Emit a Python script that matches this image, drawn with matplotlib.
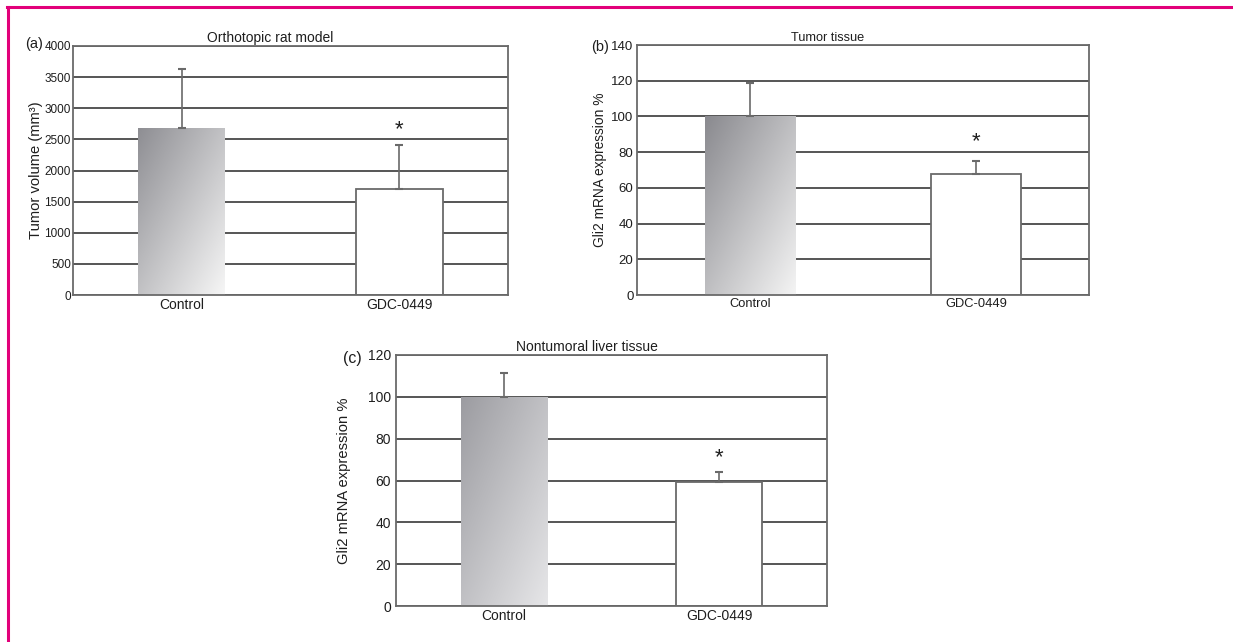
import numpy as np
import matplotlib
matplotlib.use('Agg')
import matplotlib.pyplot as plt
from matplotlib.lines import Line2D
from matplotlib.colors import LinearSegmentedColormap

plt.rcParams['font.family'] = ['Liberation Sans', 'DejaVu Sans']

groups = ['Control', 'GDC-0449']

# (a) orthotopic rat model
vol_mean = [2690, 1705]
vol_err = [935, 700]
vol_star = 2650

# (b) tumor tissue
tum_mean = [100, 68]
tum_err = [19, 7.3]
tum_star = 86

# (c) nontumoral liver tissue
liv_mean = [100, 59.5]
liv_err = [11.5, 4.5]
liv_star = 71

GRID = '#555555'
EDGE = '#6a6a6a'
TXT = '#1e1e1e'


def draw_panel(ax, means, errs, star_y, ymax, ystep, title, title_x, ylabel,
               tick_fs, lab_fs, title_fs, grad_cols, ypad, labpad):
    pos = np.arange(len(means))
    ax.yaxis.grid(True, color=GRID, lw=1.4, zorder=0)
    ax.set_axisbelow(True)

    # control bar with a diagonal grey gradient
    b0 = ax.bar(pos[0], means[0], 0.4, color='none', edgecolor='none', zorder=2)[0]
    grad = np.add.outer(np.linspace(0, 1, 100), np.linspace(0, 1, 100)) / 2
    cmap = LinearSegmentedColormap.from_list('g', grad_cols)
    x0, w = b0.get_x(), b0.get_width()
    im = ax.imshow(grad, cmap=cmap, vmin=0, vmax=1,
                   extent=[x0, x0 + w, 0, means[0]], origin='upper',
                   aspect='auto', zorder=2)
    im.set_clip_path(b0)
    ax.set_xlim(-0.5, 1.5)
    ax.set_ylim(0, ymax)
    ax.set_yticks(np.arange(0, ymax + 1, ystep))

    # treated bar, white with outline
    ax.bar(pos[1], means[1], 0.4, color='white', edgecolor=EDGE, lw=1.3, zorder=2)

    # upward error bars only
    ax.errorbar(pos, means, yerr=[[0, 0], errs], fmt='none', ecolor=EDGE,
                elinewidth=1.2, capsize=3, capthick=1.5, zorder=3)

    ax.text(pos[1], star_y, '*', ha='center', va='center', fontsize=16, color=TXT)

    ax.set_xticks(pos)
    ax.set_xticklabels(groups)
    ax.tick_params(length=0, labelsize=tick_fs, colors=TXT)
    ax.tick_params(axis='y', pad=ypad)
    ax.tick_params(axis='x', pad=2, labelsize=lab_fs)
    for s in ax.spines.values():
        s.set_color(EDGE)
        s.set_linewidth(1.3)
    ax.set_title(title, fontsize=title_fs, pad=3, color=TXT, x=title_x)
    ax.set_ylabel(ylabel, fontsize=lab_fs + 0.6, color=TXT, labelpad=labpad)


fig = plt.figure(figsize=(12.33, 6.42), dpi=100)

ax_a = fig.add_axes([73 / 1233, 1 - 295 / 642, 435 / 1233, 249 / 642])
draw_panel(ax_a, vol_mean, vol_err, vol_star, 4000, 500,
           'Orthotopic rat model', 0.454, 'Tumor volume (mm³)',
           8.5, 10, 10, ['#8e8e93', '#f6f6f6'], 1.5, 1)

ax_b = fig.add_axes([637 / 1233, 1 - 295 / 642, 452 / 1233, 250 / 642])
draw_panel(ax_b, tum_mean, tum_err, tum_star, 140, 20,
           'Tumor tissue', 0.421, 'Gli2 mRNA expression %',
           9.5, 9.3, 9.2, ['#8a8a8f', '#f4f4f4'], 2.5, 3)

ax_c = fig.add_axes([396 / 1233, 1 - 606 / 642, 431 / 1233, 251 / 642])
draw_panel(ax_c, liv_mean, liv_err, liv_star, 120, 20,
           'Nontumoral liver tissue', 0.442, 'Gli2 mRNA expression %',
           10, 10, 10, ['#9c9ca1', '#e6e6e8'], 3.5, 12)

fig.text(25 / 1233, 1 - 44 / 642, '(a)', fontsize=10.5, va='center', color=TXT)
fig.text(591 / 1233, 1 - 47 / 642, '(b)', fontsize=10.5, va='center', color=TXT)
fig.text(343 / 1233, 1 - 359 / 642, '(c)', fontsize=11.5, va='center', color=TXT)

# pink frame on left and top
pink = '#E2007A'
fig.add_artist(Line2D([8 / 1233, 8 / 1233], [0, 1 - 7 / 642], transform=fig.transFigure,
                      color=pink, lw=2.2))
fig.add_artist(Line2D([7 / 1233, 1], [1 - 7 / 642, 1 - 7 / 642], transform=fig.transFigure,
                      color=pink, lw=2.2))

fig.savefig('out.png', dpi=100)
